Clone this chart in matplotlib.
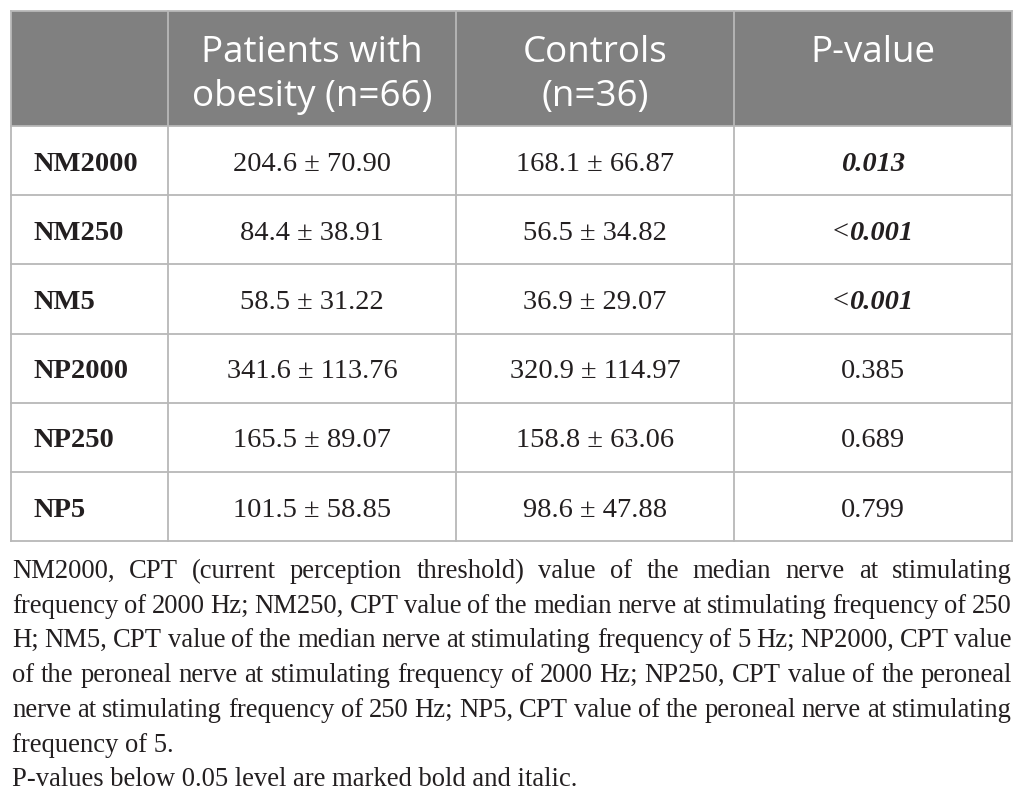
import matplotlib
matplotlib.use("Agg")
import matplotlib.pyplot as plt
from matplotlib.patches import Rectangle

W, H = 1026, 801
DPI = 100

# table content
header_lines = [
    ["Patients with", "obesity (n=66)"],
    ["Controls", "(n=36)"],
    ["P-value"],
]
row_labels = ["NM2000", "NM250", "NM5", "NP2000", "NP250", "NP5"]
obesity_vals = ["204.6 ± 70.90", "84.4 ± 38.91", "58.5 ± 31.22",
                "341.6 ± 113.76", "165.5 ± 89.07", "101.5 ± 58.85"]
control_vals = ["168.1 ± 66.87", "56.5 ± 34.82", "36.9 ± 29.07",
                "320.9 ± 114.97", "158.8 ± 63.06", "98.6 ± 47.88"]
p_values = ["0.013", "<0.001", "<0.001", "0.385", "0.689", "0.799"]
p_signif = [True, True, True, False, False, False]

footnote_lines = [
    "NM2000, CPT (current perception threshold) value of the median nerve at stimulating",
    "frequency of 2000 Hz; NM250, CPT value of the median nerve at stimulating frequency of 250",
    "H; NM5, CPT value of the median nerve at stimulating frequency of 5 Hz; NP2000, CPT value",
    "of the peroneal nerve at stimulating frequency of 2000 Hz; NP250, CPT value of the peroneal",
    "nerve at stimulating frequency of 250 Hz; NP5, CPT value of the peroneal nerve at stimulating",
    "frequency of 5.",
    "P-values below 0.05 level are marked bold and italic.",
]
footnote_justify = [True, True, True, True, True, False, False]

# layout (pixels)
col_x = [11, 168, 456, 734, 1012]
header_top, header_bot = 11, 126
row_h = 69.2
serif = "Liberation Serif"
sans = "Open Sans"
grid_col = "#b8b8b8"
head_col = "#808080"
txt_col = "#231f20"

fig = plt.figure(figsize=(W / DPI, H / DPI), dpi=DPI)
fig.patch.set_facecolor("white")
ax = fig.add_axes([0, 0, 1, 1])
ax.set_xlim(0, W)
ax.set_ylim(H, 0)
ax.axis("off")
renderer = fig.canvas.get_renderer()


def text_width(s, **kw):
    t = ax.text(0, 0, s, **kw)
    bb = t.get_window_extent(renderer=renderer)
    t.remove()
    return bb.width


# header band
ax.add_patch(Rectangle((col_x[0], header_top), col_x[-1] - col_x[0], header_bot - header_top,
                       facecolor=head_col, edgecolor="none", zorder=1))
for i, lines in enumerate(header_lines):
    cx = (col_x[i + 1] + col_x[i + 2]) / 2
    for k, line in enumerate(lines):
        ax.text(cx, 62 + k * 44, line, ha="center", va="baseline", color="white",
                fontsize=26.5, family=sans, zorder=3)

# grid lines
n_rows = len(row_labels)
table_bot = header_bot + n_rows * row_h
for i in range(n_rows + 1):
    y = header_bot + i * row_h
    ax.plot([col_x[0], col_x[-1]], [y, y], color=grid_col, lw=1.3, zorder=2)
ax.plot([col_x[0], col_x[-1]], [header_top, header_top], color=grid_col, lw=1.3, zorder=2)
for x in col_x:
    ax.plot([x, x], [header_top, table_bot], color=grid_col, lw=1.3, zorder=2)

body_fs = 20.5
for r in range(n_rows):
    yb = header_bot + r * row_h + row_h / 2 + 10
    ax.text(33, yb, row_labels[r], ha="left", va="baseline", fontsize=body_fs,
            family=serif, weight="bold", color=txt_col)
    ax.text((col_x[1] + col_x[2]) / 2, yb, obesity_vals[r], ha="center", va="baseline",
            fontsize=body_fs, family=serif, color=txt_col)
    ax.text((col_x[2] + col_x[3]) / 2, yb, control_vals[r], ha="center", va="baseline",
            fontsize=body_fs, family=serif, color=txt_col)
    cx = (col_x[3] + col_x[4]) / 2
    p = p_values[r]
    if p_signif[r]:
        prefix = "<" if p.startswith("<") else ""
        num = p[len(prefix):]
        wp = text_width(prefix, fontsize=body_fs, family=serif) if prefix else 0
        wn = text_width(num, fontsize=body_fs, family=serif, weight="bold", style="italic")
        x0 = cx - (wp + wn) / 2
        if prefix:
            ax.text(x0, yb, prefix, ha="left", va="baseline", fontsize=body_fs,
                    family=serif, color=txt_col)
        ax.text(x0 + wp, yb, num, ha="left", va="baseline", fontsize=body_fs,
                family=serif, weight="bold", style="italic", color=txt_col)
    else:
        ax.text(cx, yb, p, ha="center", va="baseline", fontsize=body_fs,
                family=serif, color=txt_col)

# footnote, justified lines
foot_fs = 19.2
left, right = 12, 1012
for i, line in enumerate(footnote_lines):
    yb = 578 + i * 34.7
    if not footnote_justify[i]:
        ax.text(left, yb, line, ha="left", va="baseline", fontsize=foot_fs,
                family=serif, color=txt_col)
        continue
    words = line.split(" ")
    widths = [text_width(w, fontsize=foot_fs, family=serif) for w in words]
    gap = (right - left - sum(widths)) / (len(words) - 1)
    x = left
    for w, wd in zip(words, widths):
        ax.text(x, yb, w, ha="left", va="baseline", fontsize=foot_fs,
                family=serif, color=txt_col)
        x += wd + gap

fig.savefig("out.png", dpi=DPI, facecolor=fig.get_facecolor())
